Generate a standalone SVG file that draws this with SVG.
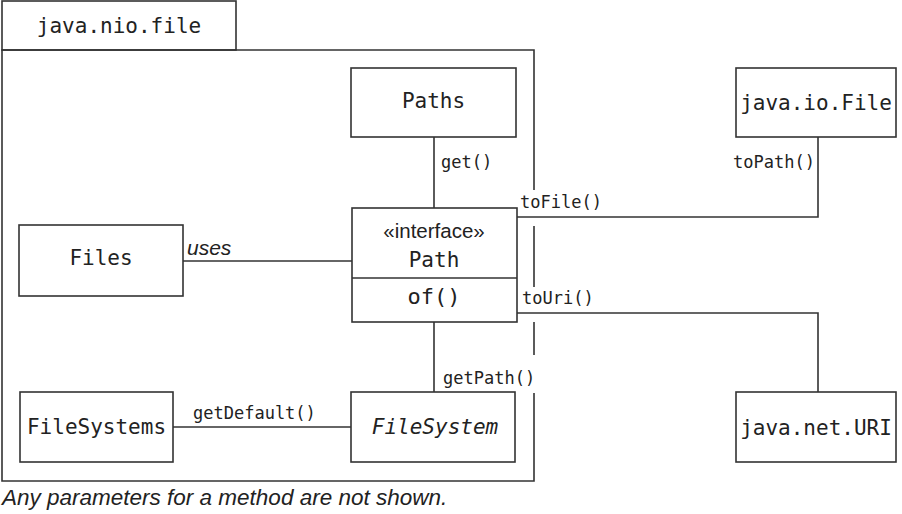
<svg xmlns="http://www.w3.org/2000/svg" width="902" height="514" viewBox="0 0 902 514">
<style>
.box{fill:#fff;stroke:#333;stroke-width:1.6}
.ln{fill:none;stroke:#333;stroke-width:1.6}
.mono{font-family:"DejaVu Sans Mono","Liberation Mono",monospace;fill:#222}
.big{font-size:21px}
.lbl{font-size:17px}
.sans{font-family:"Liberation Sans",Arial,sans-serif;fill:#222}
</style>
<rect width="902" height="514" fill="#fff"/>
<g id="package">
<rect class="box" x="2" y="1" width="234" height="49"/>
<text class="mono big" x="119" y="33" text-anchor="middle">java.nio.file</text>
<path class="ln" d="M534,190 V50 H2 V481 H534 V393 M534,355 V322 M534,287 V226"/>
</g>
<g id="connectors">
<path class="ln" d="M434,137 V208"/>
<path class="ln" d="M183,261 H352"/>
<path class="ln" d="M517,217 H818 V137"/>
<path class="ln" d="M517,313 H818 V392"/>
<path class="ln" d="M434,322 V392"/>
<path class="ln" d="M173,427 H351"/>
<text class="mono lbl" x="441" y="168">get()</text>
<text class="sans" x="187" y="255" font-size="21" font-style="italic">uses</text>
<text class="mono lbl" x="520" y="208">toFile()</text>
<text class="mono lbl" x="733" y="168">toPath()</text>
<text class="mono lbl" x="522" y="304">toUri()</text>
<text class="mono lbl" x="443" y="384">getPath()</text>
<text class="mono lbl" x="193" y="419">getDefault()</text>
</g>
<g id="Paths">
<rect class="box" x="351" y="68" width="165" height="69"/>
<text class="mono big" x="433.5" y="108" text-anchor="middle">Paths</text>
</g>
<g id="java-io-File">
<rect class="box" x="736" y="68" width="160" height="69"/>
<text class="mono big" x="816" y="110" text-anchor="middle">java.io.File</text>
</g>
<g id="Path">
<rect class="box" x="352" y="208" width="165" height="114"/>
<line class="ln" x1="352" y1="278" x2="517" y2="278"/>
<text class="sans" x="434" y="238" font-size="20.5" text-anchor="middle">«interface»</text>
<text class="mono big" x="434" y="267" text-anchor="middle">Path</text>
<text class="mono" x="434" y="304" font-size="22" text-anchor="middle">of()</text>
</g>
<g id="Files">
<rect class="box" x="19" y="225" width="164" height="71"/>
<text class="mono big" x="101" y="265" text-anchor="middle">Files</text>
</g>
<g id="FileSystems">
<rect class="box" x="20" y="392" width="153" height="70"/>
<text class="mono big" x="96.5" y="434" text-anchor="middle">FileSystems</text>
</g>
<g id="FileSystem">
<rect class="box" x="351" y="392" width="164" height="70"/>
<text class="mono big" x="435" y="434" text-anchor="middle" font-style="italic">FileSystem</text>
</g>
<g id="java-net-URI">
<rect class="box" x="736" y="392" width="160" height="70"/>
<text class="mono big" x="816" y="435" text-anchor="middle">java.net.URI</text>
</g>
<text class="sans" x="2" y="505" font-size="22.5" font-style="italic">Any parameters for a method are not shown.</text>
</svg>
